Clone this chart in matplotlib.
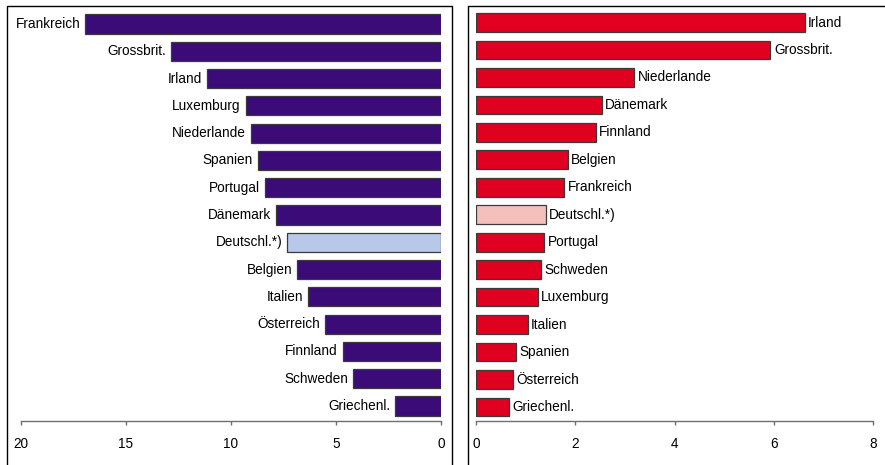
import matplotlib
matplotlib.use('Agg')
import matplotlib.pyplot as plt
from matplotlib.patches import Rectangle

left_countries = ['Frankreich', 'Grossbrit.', 'Irland', 'Luxemburg', 'Niederlande',
                  'Spanien', 'Portugal', 'Dänemark', 'Deutschl.*)', 'Belgien',
                  'Italien', 'Österreich', 'Finnland', 'Schweden', 'Griechenl.']
left_values = [16.95, 12.85, 11.13, 9.30, 9.06, 8.73, 8.37, 7.86, 7.32, 6.86,
               6.32, 5.51, 4.68, 4.17, 2.17]

right_countries = ['Irland', 'Grossbrit.', 'Niederlande', 'Dänemark', 'Finnland',
                   'Belgien', 'Frankreich', 'Deutschl.*)', 'Portugal', 'Schweden',
                   'Luxemburg', 'Italien', 'Spanien', 'Österreich', 'Griechenl.']
right_values = [6.62, 5.93, 3.18, 2.53, 2.41, 1.85, 1.78, 1.40, 1.37, 1.30,
                1.24, 1.04, 0.81, 0.75, 0.66]

left_ticks = [20, 15, 10, 5, 0]
right_ticks = [0, 2, 4, 6, 8]
highlight = 'Deutschl.*)'

plt.rcParams['font.family'] = ['Liberation Sans', 'DejaVu Sans']

W, H = 885, 465
fig = plt.figure(figsize=(W / 100, H / 100), dpi=100)


def rect(x0, x1, ytop, ybot):
    return [x0 / W, 1 - ybot / H, (x1 - x0) / W, (ybot - ytop) / H]


# panel frames
for fx0, fx1 in [(7.3, 451.7), (468.3, 890)]:
    fig.patches.append(Rectangle((fx0 / W, -0.05), (fx1 - fx0) / W, 1.05 - 6 / H,
                                 transform=fig.transFigure, fill=False,
                                 edgecolor='black', linewidth=1.0))

axL = fig.add_axes(rect(21, 441, 10.36, 420.7))
axR = fig.add_axes(rect(476, 873.3, 8.77, 420.7))

purple, lightblue = '#3B0C78', '#B8C8E8'
red, pink = '#E0001F', '#F5BFBC'
edge = '#3a3a3a'
fs = 9.8

yL = list(range(len(left_countries)))
colL = [lightblue if c == highlight else purple for c in left_countries]
axL.barh(yL, left_values, height=0.70, color=colL, edgecolor=edge, linewidth=0.9)
for y, v, c in zip(yL, left_values, left_countries):
    axL.annotate(c, (v, y), xytext=(-3.5, 0), textcoords='offset points',
                 ha='right', va='center', fontsize=fs)
axL.set_xlim(20, 0)
axL.set_ylim(14.539, -0.5)
axL.set_xticks(left_ticks)

yR = list(range(len(right_countries)))
colR = [pink if c == highlight else red for c in right_countries]
axR.barh(yR, right_values, height=0.68, color=colR, edgecolor=edge, linewidth=0.9)
for y, v, c in zip(yR, right_values, right_countries):
    axR.annotate(c, (v, y), xytext=(2.5, 0), textcoords='offset points',
                 ha='left', va='center', fontsize=fs)
axR.set_xlim(0, 8)
axR.set_ylim(14.5, -0.5)
axR.set_xticks(right_ticks)

for ax in (axL, axR):
    ax.set_facecolor('none')
    for s in ('left', 'top', 'right'):
        ax.spines[s].set_visible(False)
    ax.spines['bottom'].set_color('#707070')
    ax.spines['bottom'].set_linewidth(1.0)
    ax.set_yticks([])
    ax.tick_params(axis='x', direction='out', length=3, width=1.0,
                   color='#707070', pad=9, labelsize=fs)

fig.savefig('out.png', dpi=100)
